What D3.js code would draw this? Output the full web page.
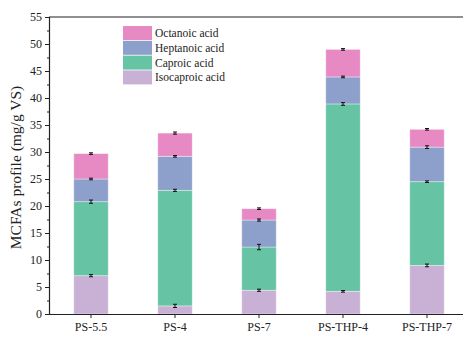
<!DOCTYPE html>
<html>
<head>
<meta charset="utf-8">
<script src="https://cdn.jsdelivr.net/npm/d3@7"></script>
<style>
  body { margin: 0; background: #fff; }
  svg text { font-family: "Liberation Serif", "Times New Roman", serif; fill: #222; }
</style>
</head>
<body>
<div id="chart"></div>
<script>
// samples and stacked acids (bottom to top)
var samples = ["PS-5.5", "PS-4", "PS-7", "PS-THP-4", "PS-THP-7"];
var acids = ["Isocaproic acid", "Caproic acid", "Heptanoic acid", "Octanoic acid"];
var colors = ["#c9b1d6", "#66c4a5", "#8da0cb", "#e78ac3"];

var isocaproic = [7.1, 1.5, 4.4, 4.2, 9.0];
var caproic    = [13.7, 21.4, 8.0, 34.7, 15.5];
var heptanoic  = [4.2, 6.3, 5.0, 5.0, 6.4];
var octanoic   = [4.7, 4.3, 2.1, 5.1, 3.3];

var isoErr  = [0.2, 0.3, 0.2, 0.15, 0.25];
var capErr  = [0.3, 0.2, 0.5, 0.25, 0.15];
var heptErr = [0.15, 0.15, 0.2, 0.15, 0.25];
var octErr  = [0.15, 0.2, 0.15, 0.15, 0.15];

var yTicks = [0, 5, 10, 15, 20, 25, 30, 35, 40, 45, 50, 55];

var series = [isocaproic, caproic, heptanoic, octanoic];
var errs = [isoErr, capErr, heptErr, octErr];

var w = 463, h = 338;
var mLeft = 49, mTop = 17, mBottom = 314, mRight = 469;

var svg = d3.select("#chart").append("svg")
    .attr("width", w)
    .attr("height", h);

var x = d3.scaleBand()
    .domain(samples)
    .range([mLeft, mRight])
    .paddingInner(0.59)
    .paddingOuter(0.295);

var y = d3.scaleLinear()
    .domain([0, 55])
    .range([mBottom, mTop]);

// stacking
var rows = samples.map(function (s, i) {
    var r = { sample: s };
    acids.forEach(function (a, j) { r[a] = series[j][i]; });
    return r;
});
var stacked = d3.stack().keys(acids)(rows);

stacked.forEach(function (layer, j) {
    svg.append("g")
        .selectAll("rect")
        .data(layer)
        .enter().append("rect")
        .attr("x", function (d) { return x(d.data.sample); })
        .attr("width", x.bandwidth())
        .attr("y", function (d) { return y(d[1]); })
        .attr("height", function (d) { return y(d[0]) - y(d[1]); })
        .attr("fill", colors[j])
        .attr("stroke", "#ffffff")
        .attr("stroke-opacity", 0.45)
        .attr("stroke-width", 0.8);
});

// error bars at top of each segment
stacked.forEach(function (layer, j) {
    var g = svg.append("g").attr("stroke", "#111").attr("stroke-width", 1);
    layer.forEach(function (d, i) {
        var cx = x(d.data.sample) + x.bandwidth() / 2;
        var e = errs[j][i];
        var y1 = y(d[1] + e), y2 = y(d[1] - e);
        g.append("line").attr("x1", cx).attr("x2", cx).attr("y1", y1).attr("y2", y2);
        g.append("line").attr("x1", cx - 2).attr("x2", cx + 2).attr("y1", y1).attr("y2", y1);
        g.append("line").attr("x1", cx - 2).attr("x2", cx + 2).attr("y1", y2).attr("y2", y2);
    });
});

// y axis with minor ticks
var yAxis = svg.append("g")
    .attr("transform", "translate(" + mLeft + ",0)")
    .call(d3.axisLeft(y).tickValues(yTicks).tickSize(4).tickPadding(3));
yAxis.selectAll("text").style("font-size", "12px");
svg.append("g")
    .attr("transform", "translate(" + mLeft + ",0)")
    .call(d3.axisLeft(y).tickValues(yTicks.slice(0, -1).map(function (t) { return t + 2.5; }))
        .tickSize(2).tickFormat(""))
    .select(".domain").remove();

// x axis
var xAxis = svg.append("g")
    .attr("transform", "translate(0," + mBottom + ")")
    .call(d3.axisBottom(x).tickSize(4).tickPadding(4).tickSizeOuter(0));
xAxis.selectAll("text").style("font-size", "12px");

svg.selectAll(".domain").attr("stroke", "#222").attr("stroke-width", 1.2);
svg.selectAll(".tick line").attr("stroke", "#222");

// top frame
svg.append("line")
    .attr("x1", mLeft).attr("x2", w)
    .attr("y1", mTop).attr("y2", mTop)
    .attr("stroke", "#222").attr("stroke-width", 1.2);

// y title
svg.append("text")
    .attr("transform", "translate(21," + ((mTop + mBottom) / 2 + 2) + ") rotate(-90)")
    .attr("text-anchor", "middle")
    .style("font-size", "15.5px")
    .text("MCFAs profile (mg/g VS)");

// legend (top entry first)
var legend = svg.append("g").attr("transform", "translate(123,26)");
acids.slice().reverse().forEach(function (a, k) {
    var j = acids.length - 1 - k;
    legend.append("rect")
        .attr("x", 0).attr("y", k * 14.8)
        .attr("width", 29).attr("height", 14)
        .attr("fill", colors[j]);
    legend.append("text")
        .attr("x", 32).attr("y", k * 14.8 + 11)
        .style("font-size", "11.5px")
        .text(a);
});
</script>
</body>
</html>
